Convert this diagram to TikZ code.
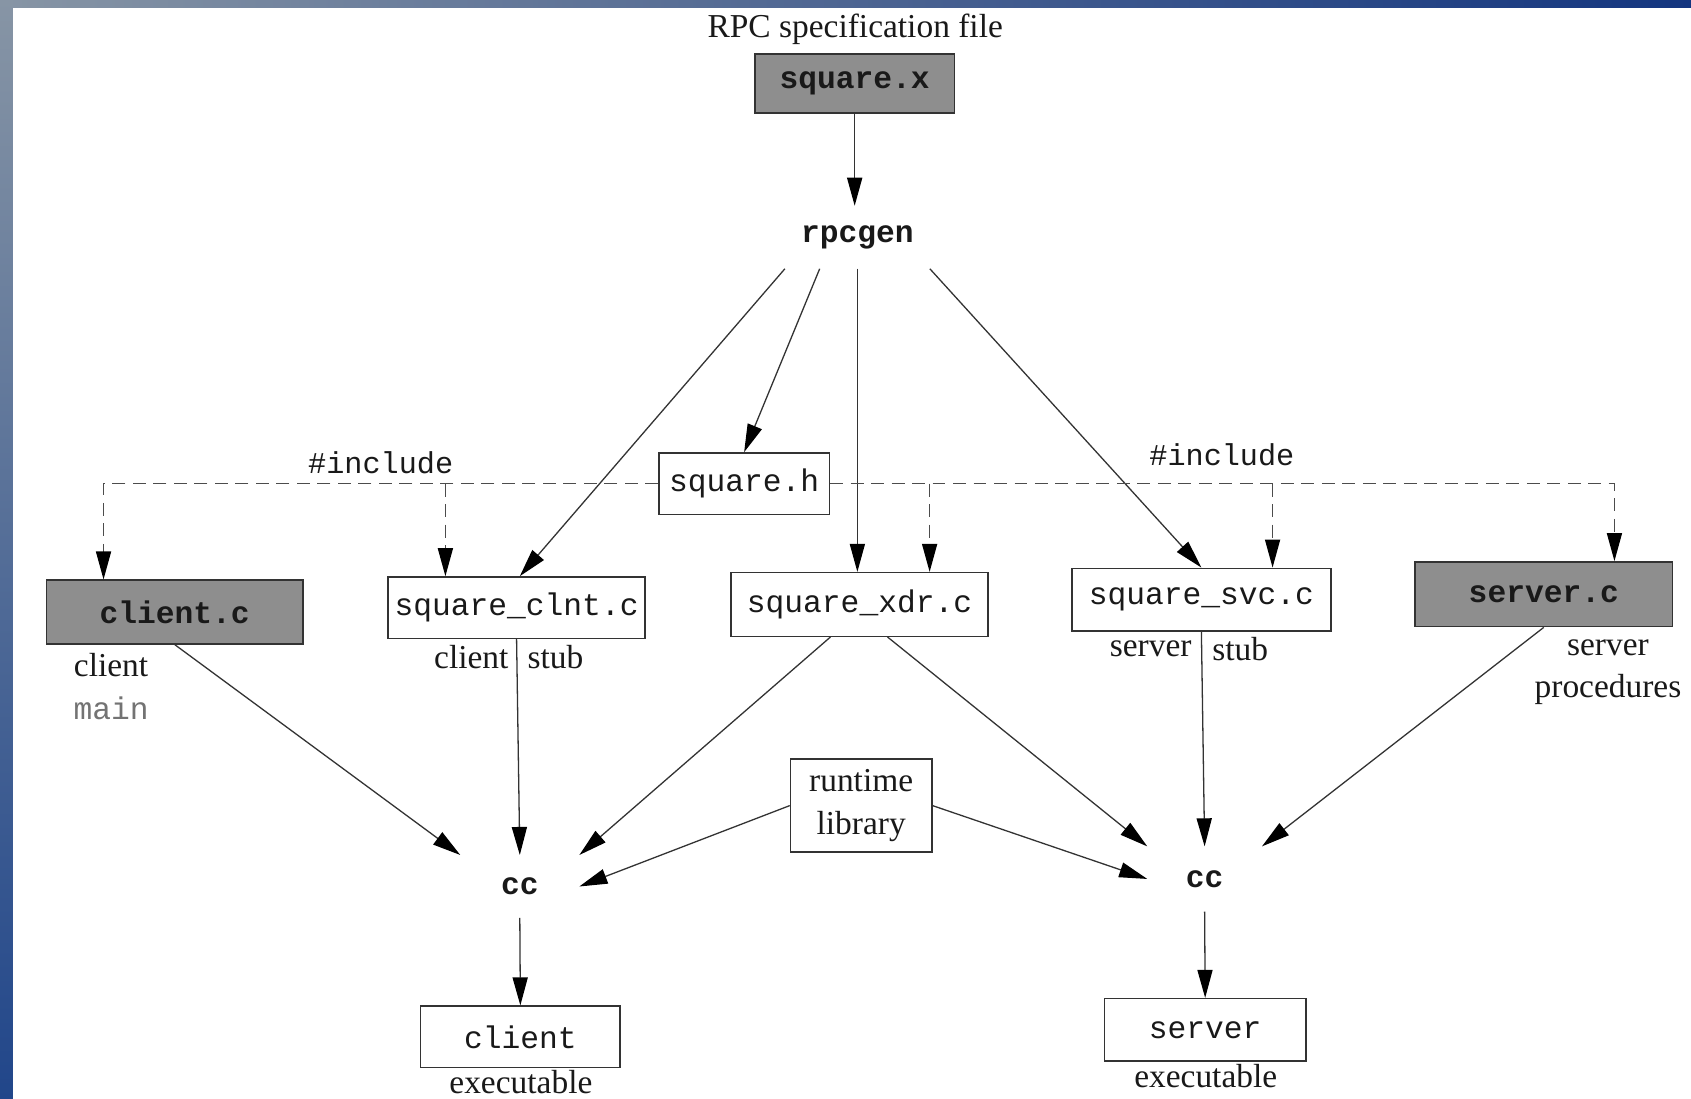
\documentclass[tikz,border=0pt]{standalone}
\usepackage{fontspec}
\setmainfont{Liberation Serif}
\setmonofont{Liberation Mono}
\usetikzlibrary{arrows.meta,calc}
\definecolor{boxgray}{HTML}{8E8E8E}
\definecolor{frameA}{HTML}{8795A5}
\definecolor{frameB}{HTML}{13357F}
\definecolor{frameC}{HTML}{21468A}
\begin{document}
\begin{tikzpicture}[x=1pt,y=-1pt,
  every node/.style={inner sep=0pt, text=black!90},
  file/.style={draw=black!80, line width=1.4pt, minimum height=57pt, font=\fontsize{29}{30}\selectfont\ttfamily},
  srcfile/.style={file, fill=boxgray, font=\fontsize{29}{30}\selectfont\ttfamily\bfseries},
  lbl/.style={font=\fontsize{31}{36}\selectfont},
  tool/.style={font=\fontsize{29}{30}\selectfont\ttfamily\bfseries},
  flow/.style={draw=black!80, line width=1.2pt, -{Triangle[length=26pt,width=14pt,color=black]}},
  incl/.style={flow, dash pattern=on 12pt off 7pt, draw=black!70},
]
\useasboundingbox (0,0) rectangle (1568,1019);
\fill[white] (0,0) rectangle (1568,1019);
\shade[left color=frameA, right color=frameB] (0,0) rectangle (1568,6.5);
\shade[top color=frameA, bottom color=frameC] (0,0) rectangle (12,1019);

% nodes
\node[lbl] (spec) at (793,27) {RPC specification file};
\node[srcfile, minimum width=185pt, minimum height=55pt] (squarex) at (792.5,77.5) {square.x};
\node[tool, minimum width=134pt, minimum height=58pt] (rpcgen) at (795,220) {rpcgen};
\node[file, minimum width=158pt] (squareh) at (690,448.5) {square.h};
\node[srcfile, minimum width=238pt, minimum height=59pt] (clientc) at (162,567.5) {client.c};
\node[file, minimum width=238pt] (clnt) at (479,563.5) {square\_clnt.c};
\node[file, minimum width=238pt, minimum height=59pt] (xdr) at (797,560.5) {square\_xdr.c};
\node[file, minimum width=240pt, minimum height=58pt] (svc) at (1114,556) {square\_svc.c};
\node[srcfile, minimum width=239pt, minimum height=60pt] (serverc) at (1431.5,551) {server.c};

\node[lbl] (clientlbl) at (103,617) {client};
\node[font=\fontsize{29}{30}\selectfont\ttfamily, text=black!55] (mainlbl) at (103,657) {main};
\node[lbl] (clntA) at (437,609) {client};
\node[lbl] (clntB) at (515,609) {stub};
\node[lbl] (svcA) at (1067,602) {server};
\node[lbl] (svcB) at (1150,602) {stub};
\node[lbl] (srvA) at (1491,601) {server};
\node[lbl] (srvB) at (1491,639) {procedures};

\node[draw=black!80, line width=1.4pt, minimum width=131pt, minimum height=86pt, align=center, font=\fontsize{31}{40}\selectfont] (runtime) at (798.5,747) {runtime\\library};

\node[tool, minimum width=110pt, minimum height=58pt] (ccL) at (482,822) {cc};
\node[tool, minimum width=106pt, minimum height=60pt] (ccR) at (1117,815) {cc};

\node[file, minimum width=185pt] (clientexe) at (482.5,961.5) {client};
\node[lbl] (exeL) at (483,1003) {executable};
\node[file, minimum width=187pt, minimum height=58pt] (serverexe) at (1117.5,955) {server};
\node[lbl] (exeR) at (1118,998) {executable};

\node[font=\fontsize{28}{30}\selectfont\ttfamily] (incL) at (353,429) {\#include};
\node[font=\fontsize{28}{30}\selectfont\ttfamily] (incR) at (1133,422) {\#include};

% rpcgen flow
\draw[flow] (squarex.south) -- (squarex.south |- rpcgen.north);
\draw[flow] (rpcgen.south west) -- ([xshift=3pt]clnt.north);
\draw[flow] ($(rpcgen.south west)!0.24!(rpcgen.south east)$) -- (squareh.north);
\draw[flow] (rpcgen.south) -- (rpcgen.south |- xdr.north);
\draw[flow] (rpcgen.south east) -- (svc.north);

% #include dashed
\coordinate (dL1) at (96,448.5);
\coordinate (dL2) at (413,448.5);
\coordinate (dR1) at (862,448.5);
\coordinate (dR2) at (1180,448.5);
\coordinate (dR3) at (1497,448.5);
\draw[incl] (squareh.west) -- (dL1) -- (dL1 |- clientc.north);
\draw[incl] (dL2) -- (dL2 |- clnt.north);
\draw[incl] (squareh.east) -- (dR3) -- (dR3 |- serverc.north);
\draw[incl] (dR1) -- (dR1 |- xdr.north);
\draw[incl] (dR2) -- (dR2 |- svc.north);

% compile
\draw[flow] (clientc.south) -- (ccL.north west);
\draw[flow] (clnt.south) -- (ccL.north);
\draw[flow] ([xshift=-27pt]xdr.south) -- (ccL.north east);
\draw[flow] (runtime.west) -- (ccL.east);
\draw[flow] ([xshift=26pt]xdr.south) -- (ccR.north west);
\draw[flow] (runtime.east) -- (ccR.west);
\draw[flow] (svc.south) -- (ccR.north);
\draw[flow] (serverc.south) -- (ccR.north east);
\draw[flow] (ccL.south) -- (clientexe.north);
\draw[flow] (ccR.south) -- (serverexe.north);
\end{tikzpicture}
\end{document}
